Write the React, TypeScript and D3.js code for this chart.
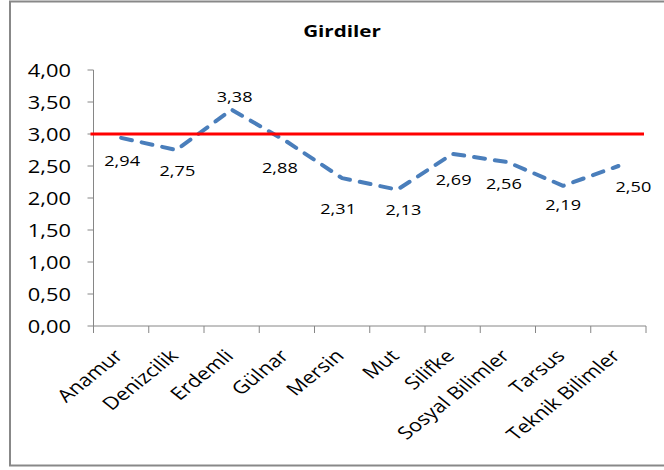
import React from "react";
import * as d3 from "d3";

const categories = ["Anamur", "Denizcilik", "Erdemli", "Gülnar", "Mersin", "Mut", "Silifke", "Sosyal Bilimler", "Tarsus", "Teknik Bilimler"];
const values = [2.94, 2.75, 3.38, 2.88, 2.31, 2.13, 2.69, 2.56, 2.19, 2.5];
const threshold = 3.0;
const yTicks = [0, 0.5, 1, 1.5, 2, 2.5, 3, 3.5, 4];
const title = "Girdiler";

// layout only: data label offsets relative to each point
const labelOffsets: [number, number][] = [
  [1, 22], [1, 20], [3, -13], [-7, 26], [-4, 30], [6, 20], [1, 25], [-4, 21], [0, 18], [15, 20],
];

const W = 664;
const H = 470;
const SX = 1.25;
const FONT = "'Open Sans', sans-serif";
const fmt = (v: number) => d3.format(".2f")(v).replace(".", ",");

export default function App() {
  const x = d3.scaleBand<string>().domain(categories).range([93.5, 646]).padding(0);
  const y = d3.scaleLinear().domain([0, 4]).range([326, 70]);
  const bw = x.bandwidth();
  const cx = (c: string) => (x(c) as number) + bw / 2;
  const pts: [number, number][] = categories.map((c, i) => [cx(c), y(values[i])]);
  const line = d3.line<[number, number]>().x((d) => d[0]).y((d) => d[1]);
  const [x0, x1] = x.range();
  const boundaries = categories.map((c) => x(c) as number).concat([x1]);

  return (
    <svg width={W} height={H} style={{ position: "absolute", left: 0, top: 0, background: "#fff" }}>
      <rect x={10} y={1.5} width={680} height={464} fill="#fff" stroke="#888" strokeWidth={2} />
      <g transform={`translate(342,37) scale(${SX},1)`}>
        <text textAnchor="middle" fontFamily={FONT} fontWeight="bold" fontSize={16.5} fill="#000">
          {title}
        </text>
      </g>
      {/* y axis */}
      <line x1={x0} x2={x0} y1={y(4)} y2={y(0)} stroke="#868686" strokeWidth={1} />
      {yTicks.map((t) => (
        <g key={t}>
          <line x1={x0 - 6} x2={x0} y1={y(t)} y2={y(t)} stroke="#868686" strokeWidth={1} />
          <g transform={`translate(71,${y(t)}) scale(${SX},1)`}>
            <text textAnchor="end" dominantBaseline="central" fontFamily={FONT} fontSize={17.5} fill="#000">
              {fmt(t)}
            </text>
          </g>
        </g>
      ))}
      {/* x axis */}
      <line x1={x0} x2={x1} y1={y(0)} y2={y(0)} stroke="#868686" strokeWidth={1} />
      {boundaries.map((b, i) => (
        <line key={i} x1={b} x2={b} y1={y(0)} y2={y(0) + 7} stroke="#868686" strokeWidth={1} />
      ))}
      {categories.map((c) => (
        <g key={c} transform={`translate(${cx(c) + 3},357) scale(${SX},1) rotate(-45)`}>
          <text textAnchor="end" fontFamily={FONT} fontSize={17.5} fill="#000">
            {c}
          </text>
        </g>
      ))}
      {/* series */}
      <path
        d={line(pts) as string}
        fill="none"
        stroke="#4A7EBB"
        strokeWidth={4}
        strokeDasharray="11 10"
        strokeLinecap="round"
        strokeLinejoin="round"
      />
      <line x1={x0 - 3} x2={x1 - 2} y1={y(threshold)} y2={y(threshold)} stroke="#FF0000" strokeWidth={3} />
      {pts.map((p, i) => (
        <g key={i} transform={`translate(${p[0] + labelOffsets[i][0]},${p[1] + labelOffsets[i][1]}) scale(${SX},1)`}>
          <text textAnchor="middle" dominantBaseline="central" fontFamily={FONT} fontSize={14.5} fill="#000">
            {fmt(values[i])}
          </text>
        </g>
      ))}
    </svg>
  );
}
